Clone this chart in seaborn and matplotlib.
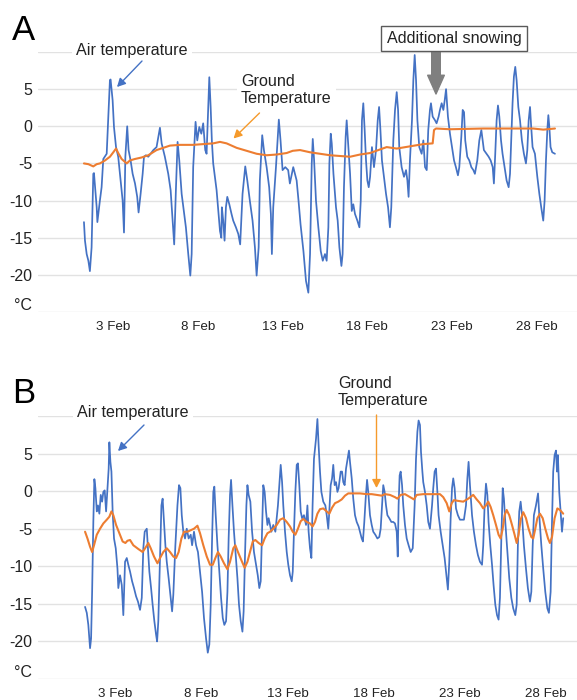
import matplotlib
matplotlib.use("Agg")
import matplotlib.pyplot as plt
import pandas as pd
import seaborn as sns

# ---------------- data (day of February, temperature in degC) ----------------
a_air_day = [1.29, 1.35, 1.45, 1.55, 1.64, 1.74, 1.84, 1.88, 2.04, 2.08, 2.23, 2.33, 2.43, 2.63, 2.82, 2.86,
             2.98, 3.06, 3.18, 3.31, 3.45, 3.57, 3.65, 3.73, 3.84, 3.92, 4.04, 4.16, 4.30, 4.43, 4.51, 4.63,
             4.75, 4.83, 4.94, 5.08, 5.22, 5.38, 5.57, 5.77, 5.87, 6.06, 6.26, 6.40, 6.52, 6.61, 6.71, 6.81,
             6.91, 7.05, 7.18, 7.30, 7.44, 7.56, 7.64, 7.73, 7.87, 7.97, 8.09, 8.21, 8.32, 8.44, 8.52, 8.62,
             8.68, 8.76, 8.83, 8.91, 9.01, 9.11, 9.23, 9.31, 9.39, 9.42, 9.50, 9.58, 9.66, 9.74, 9.86, 9.99,
             10.09, 10.25, 10.39, 10.50, 10.64, 10.80, 10.92, 11.07, 11.23, 11.37, 11.47, 11.59, 11.66, 11.80,
             11.90, 12.06, 12.21, 12.31, 12.37, 12.45, 12.61, 12.78, 12.88, 13.00, 13.16, 13.33, 13.43, 13.63,
             13.83, 13.94, 14.06, 14.23, 14.38, 14.52, 14.62, 14.72, 14.78, 14.86, 14.97, 15.11, 15.25, 15.37,
             15.50, 15.60, 15.70, 15.76, 15.84, 15.90, 16.00, 16.15, 16.25, 16.35, 16.47, 16.54, 16.62, 16.72,
             16.78, 16.88, 16.98, 17.08, 17.17, 17.27, 17.41, 17.53, 17.61, 17.68, 17.76, 17.84, 17.92, 18.00,
             18.08, 18.16, 18.27, 18.39, 18.51, 18.61, 18.69, 18.76, 18.86, 18.98, 19.10, 19.22, 19.33, 19.41,
             19.53, 19.63, 19.73, 19.81, 19.88, 20.02, 20.16, 20.28, 20.36, 20.43, 20.51, 20.63, 20.71, 20.79,
             20.87, 20.95, 21.06, 21.20, 21.30, 21.40, 21.50, 21.59, 21.69, 21.75, 21.85, 21.99, 22.08, 22.20,
             22.28, 22.38, 22.48, 22.56, 22.64, 22.75, 22.87, 22.99, 23.11, 23.22, 23.34, 23.42, 23.54, 23.62,
             23.70, 23.77, 23.89, 24.01, 24.13, 24.25, 24.34, 24.48, 24.60, 24.72, 24.80, 24.87, 25.03, 25.15,
             25.27, 25.39, 25.46, 25.54, 25.62, 25.70, 25.78, 25.88, 25.97, 26.09, 26.21, 26.33, 26.41, 26.49,
             26.56, 26.64, 26.72, 26.80, 26.90, 27.00, 27.11, 27.23, 27.35, 27.43, 27.51, 27.59, 27.66, 27.74,
             27.88, 28.02, 28.14, 28.25, 28.37, 28.45, 28.53, 28.61, 28.67, 28.73, 28.80, 28.90, 29.06]
a_air_temp = [-12.9, -15.4, -17.2, -18.1, -19.5, -16.3, -6.4, -6.3, -10.9, -12.9, -10.0, -8.2, -4.4, -3.7, 6.2, 6.3,
              3.5, -0.1, -2.8, -4.1, -7.3, -10.0, -14.3, -4.1, 0.0, -3.2, -4.6, -6.4, -7.7, -9.5, -11.6, -9.1,
              -6.4, -4.1, -3.9, -4.1, -3.7, -3.2, -2.8, -0.2, -2.3, -4.1, -6.4, -8.6, -12.7, -15.9, -8.6, -2.1,
              -4.6, -9.1, -11.4, -13.6, -17.2, -20.1, -17.2, -5.5, 0.6, -1.9, -0.1, -1.0, 0.4, -3.2, -3.7, 2.6,
              6.6, 2.6, -1.9, -5.0, -6.8, -8.6, -11.8, -14.1, -15.0, -10.9, -12.7, -15.4, -10.9, -9.5, -10.5, -11.8,
              -12.7, -13.6, -14.5, -15.9, -9.1, -5.4, -7.3, -10.0, -12.7, -16.3, -20.1, -16.3, -7.3, -1.2,
              -3.2, -5.5, -8.2, -11.8, -17.2, -10.9, -5.5, 0.9, -1.9, -5.9, -5.5, -5.9, -7.7, -5.5,
              -7.3, -10.0, -13.2, -16.8, -20.8, -22.4, -17.2, -5.0, -1.7, -4.6, -10.0, -13.6, -16.8, -18.1,
              -17.2, -18.1, -13.6, -5.0, -1.0, -2.3, -6.4, -10.9, -12.7, -16.3, -18.8, -17.2, -8.2, -1.4,
              0.8, -2.8, -6.4, -11.4, -10.5, -11.8, -12.7, -13.6, -10.0, 0.8, 3.1, -0.5, -4.6, -7.3,
              -8.2, -6.8, -2.8, -5.5, -3.2, 0.8, 2.6, -0.1, -4.6, -6.8, -9.1, -10.9, -13.6, -10.9,
              -1.9, 2.2, 4.6, 2.2, -2.8, -5.5, -6.8, -5.9, -7.3, -9.5, -4.6, 0.8, 6.2, 9.6,
              6.2, 0.8, -2.8, -3.7, -1.9, -5.5, -5.9, -0.5, 2.2, 3.1, 1.3, 0.8, 0.4, 1.3,
              2.2, 3.1, 2.2, 3.5, 5.0, 1.3, -1.0, -2.8, -4.6, -5.5, -6.6, -5.5, -1.4, 2.2,
              1.9, -1.9, -4.1, -4.6, -5.5, -5.9, -6.4, -4.6, -1.9, -0.5, -1.9, -3.2, -3.7, -4.1,
              -4.6, -5.5, -7.7, -3.7, 0.8, 2.8, 1.3, -1.9, -3.7, -5.5, -7.3, -8.2, -6.4, -1.4,
              3.1, 6.7, 8.0, 6.2, 2.6, 0.8, -1.9, -3.7, -5.0, -3.2, 0.8, 2.6, -0.1, -2.8,
              -3.7, -6.8, -9.1, -10.9, -12.7, -10.0, -4.6, -0.5, 1.5, -0.1, -2.8, -3.5, -3.7]

a_ground_day = [1.29, 1.55, 1.84, 2.04, 2.23, 2.53, 2.82, 3.02, 3.18, 3.31, 3.51, 3.81, 4.00, 4.30, 4.69,
                5.08, 5.57, 5.97, 6.36, 6.95, 7.73, 8.32, 8.91, 9.31, 9.70, 10.29, 10.88, 11.47, 12.06,
                12.65, 13.24, 13.60, 14.03, 14.62, 15.80, 16.98, 17.57, 18.16, 19.14, 19.73, 20.51, 21.30,
                21.85, 21.93, 22.05, 22.87, 24.84, 26.80, 27.78, 28.37, 29.06]
a_ground_temp = [-5.0, -5.1, -5.4, -5.1, -5.0, -4.6, -4.1, -3.5, -3.0, -3.6, -4.4, -5.0, -4.6, -4.4, -4.2,
                 -3.9, -3.2, -2.9, -2.6, -2.5, -2.5, -2.4, -2.3, -2.1, -2.3, -2.9, -3.3, -3.7, -3.9,
                 -3.8, -3.6, -3.3, -3.2, -3.5, -3.9, -4.1, -3.8, -3.6, -2.8, -3.0, -2.7, -2.4,
                 -2.3, -0.5, -0.3, -0.4, -0.3, -0.3, -0.3, -0.45, -0.3]

b_air_day = [1.26, 1.36, 1.45, 1.55, 1.61, 1.67, 1.74, 1.80, 1.86, 1.94, 2.01, 2.09, 2.17, 2.25, 2.32, 2.40,
             2.48, 2.56, 2.63, 2.67, 2.73, 2.79, 2.86, 2.94, 3.04, 3.14, 3.19, 3.29, 3.39, 3.48, 3.58, 3.68,
             3.77, 3.87, 3.99, 4.10, 4.22, 4.33, 4.45, 4.55, 4.64, 4.72, 4.84, 4.91, 4.99, 5.09, 5.18, 5.28,
             5.38, 5.44, 5.51, 5.61, 5.69, 5.76, 5.84, 5.92, 6.00, 6.11, 6.23, 6.31, 6.38, 6.50, 6.62, 6.71,
             6.79, 6.87, 6.96, 7.06, 7.16, 7.27, 7.39, 7.47, 7.58, 7.70, 7.81, 7.93, 8.05, 8.16, 8.28, 8.38,
             8.47, 8.55, 8.63, 8.70, 8.76, 8.84, 8.94, 9.05, 9.15, 9.25, 9.34, 9.44, 9.52, 9.59, 9.67, 9.73,
             9.81, 9.90, 10.00, 10.10, 10.19, 10.29, 10.39, 10.46, 10.54, 10.62, 10.68, 10.75, 10.85, 10.95,
             11.06, 11.18, 11.28, 11.37, 11.45, 11.53, 11.60, 11.68, 11.76, 11.84, 11.91, 11.99, 12.07, 12.18,
             12.30, 12.38, 12.45, 12.53, 12.61, 12.69, 12.76, 12.86, 12.96, 13.05, 13.15, 13.25, 13.31, 13.38,
             13.46, 13.54, 13.61, 13.69, 13.77, 13.85, 13.96, 14.08, 14.16, 14.23, 14.31, 14.39,
             14.46, 14.54, 14.66, 14.74, 14.81, 14.89, 14.97, 15.08, 15.20, 15.28, 15.37, 15.43, 15.51, 15.59,
             15.66, 15.74, 15.82, 15.90, 15.97, 16.09, 16.17, 16.24, 16.32, 16.40, 16.49, 16.57, 16.63, 16.73,
             16.82, 16.92, 17.02, 17.13, 17.21, 17.31, 17.38, 17.46, 17.54, 17.62, 17.69, 17.79, 17.89, 17.98,
             18.10, 18.22, 18.33, 18.41, 18.49, 18.56, 18.64, 18.72, 18.80, 18.91, 19.03, 19.14, 19.24, 19.34,
             19.40, 19.45, 19.51, 19.57, 19.65, 19.72, 19.82, 19.92, 20.03, 20.15, 20.27, 20.38, 20.46, 20.54,
             20.61, 20.69, 20.75, 20.83, 20.88, 20.98, 21.08, 21.17, 21.27, 21.39, 21.46, 21.54, 21.62, 21.70,
             21.77, 21.89, 22.01, 22.12, 22.24, 22.31, 22.39, 22.47, 22.55, 22.62, 22.70, 22.78, 22.89, 23.01,
             23.13, 23.24, 23.36, 23.44, 23.51, 23.59, 23.71, 23.82, 23.94, 24.05, 24.17, 24.29, 24.36, 24.44,
             24.52, 24.60, 24.67, 24.77, 24.87, 24.96, 25.06, 25.16, 25.25, 25.33, 25.41, 25.49, 25.56, 25.64,
             25.76, 25.87, 25.99, 26.10, 26.22, 26.30, 26.37, 26.45, 26.53, 26.61, 26.72, 26.84, 26.95, 27.07,
             27.15, 27.23, 27.30, 27.42, 27.54, 27.61, 27.73, 27.84, 27.96, 28.08, 28.17, 28.27, 28.35, 28.42,
             28.50, 28.58, 28.64, 28.69, 28.77, 28.85, 28.93, 29.00]
b_air_temp = [-15.4, -16.2, -17.8, -20.9, -19.6, -13.4, -4.1, 1.6, 0.4, -2.7, -1.9, -3.0, -0.5, -1.4, -0.1, 0.1,
              -2.7, 0.4, 3.0, 6.5, 3.9, 2.6, -2.7, -6.3, -7.6, -10.3, -12.9, -11.2, -12.5, -16.5, -9.4, -8.9,
              -9.8, -10.7, -12.0, -12.9, -14.0, -14.7, -15.8, -14.2, -7.6, -5.4, -5.0, -7.6, -10.7, -12.9, -15.1, -17.3,
              -19.1, -20.0, -17.3, -8.5, -1.9, -1.0, -4.1, -7.2, -9.4, -11.6, -14.2, -16.0, -13.8, -7.2, -1.9, 0.8,
              0.4, -3.2, -5.4, -6.3, -5.0, -6.3, -5.8, -7.2, -5.4, -7.2, -8.1, -10.7, -13.4, -16.9, -19.6, -21.5,
              -20.4, -15.1, -6.3, -0.1, 0.6, -3.2, -7.2, -10.7, -14.2, -16.9, -17.8, -17.3, -13.4, -6.3, -0.5, 1.5,
              -1.9, -5.4, -8.5, -11.6, -15.1, -17.3, -18.7, -16.0, -8.5, -1.9, 0.8, -0.5, -1.4, -5.4,
              -8.1, -9.8, -11.2, -12.9, -12.0, -5.0, 0.8, -0.1, -2.7, -4.5, -3.6, -4.5, -5.4, -4.5,
              -5.4, -3.6, -1.9, 0.8, 3.5, 1.2, -1.9, -5.4, -8.1, -9.8, -11.2, -12.0, -10.7, -5.4,
              -0.1, 3.5, 3.7, 0.8, -2.7, -3.6, -3.2, -4.5, -1.9, -5.4, -7.6, -8.9,
              -1.9, 4.3, 7.0, 9.6, 6.1, 2.6, -0.1, -1.4, -1.9, -3.2, -5.0, -2.7, 0.8, 1.7,
              3.5, 0.8, 1.2, -0.1, 0.4, 2.6, 2.6, 1.2, 0.8, 3.0, 4.3, 5.4, 3.9, 1.7,
              -1.0, -3.2, -4.1, -4.7, -5.4, -6.3, -6.7, -4.1, -1.0, 1.5, -0.1, -3.2, -4.5, -5.4,
              -5.8, -6.3, -6.1, -5.0, -1.9, 0.8, -0.1, -1.9, -3.2, -3.6, -4.1, -4.1, -4.3, -5.4,
              -8.7, -1.9, 2.1, 2.6, 0.8, -1.9, -4.5, -6.3, -7.2, -8.1, -7.6, -1.9, 4.3, 7.9,
              9.4, 8.8, 5.2, 2.6, 1.2, -0.1, -1.9, -4.1, -5.0, -1.9, 0.4, 2.6, 3.0, -0.1,
              -3.2, -5.4, -7.2, -8.9, -11.6, -13.1, -9.4, -3.6, 0.4, 1.7, 0.4, -2.3, -3.2, -3.8,
              -3.8, -3.8, -1.9, 1.7, 3.9, 0.8, -3.2, -5.4, -7.2, -8.5, -9.4, -9.8, -7.2, -1.9,
              1.0, -0.5, -4.1, -7.2, -9.8, -12.5, -15.1, -16.5, -17.1, -14.2, -6.3, 0.4, -1.0, -4.1,
              -8.1, -11.6, -14.2, -15.6, -16.5, -15.1, -7.2, -2.7, -1.4, -3.2, -7.2, -10.3, -12.9, -14.7,
              -13.4, -7.2, -3.2, -1.9, -0.3, -3.2, -7.2, -10.3, -13.4, -15.6, -16.2, -13.4, -4.1, 2.6,
              4.8, 5.4, 2.6, 4.8, -0.1, -2.7, -5.4, -3.6]

b_ground_day = [1.26, 1.40, 1.55, 1.67, 1.78, 1.94, 2.13, 2.32, 2.52, 2.67, 2.79, 2.90, 3.06, 3.25, 3.44, 3.60,
                3.72, 3.87, 4.06, 4.35, 4.60, 4.80, 4.93, 5.07, 5.26, 5.46, 5.61, 5.80, 6.00, 6.19, 6.38, 6.54,
                6.69, 6.85, 7.00, 7.20, 7.39, 7.58, 7.78, 7.93, 8.12, 8.32, 8.51, 8.67, 8.82, 8.97, 9.13, 9.32,
                9.52, 9.67, 9.86, 9.98, 10.13, 10.33, 10.52, 10.68, 10.83, 10.99, 11.14, 11.33, 11.53, 11.68,
                11.84, 11.99, 12.18, 12.38, 12.57, 12.76, 12.96, 13.15, 13.31, 13.46, 13.61, 13.77, 13.92, 14.12,
                14.31, 14.46, 14.60, 14.74, 14.89, 15.08, 15.28, 15.43, 15.59, 15.76, 15.95, 16.15, 16.34, 16.53,
                16.82, 17.21, 17.60, 17.89, 18.18, 18.47, 18.66, 18.95, 19.24, 19.38, 19.57, 19.82, 20.11, 20.34,
                20.50, 20.88, 21.27, 21.56, 21.85, 22.04, 22.24, 22.39, 22.53, 22.66, 22.91, 23.20, 23.49, 23.78,
                23.98, 24.17, 24.36, 24.52, 24.65, 24.79, 24.94, 25.10, 25.25, 25.37, 25.49, 25.60, 25.72, 25.87,
                26.03, 26.18, 26.30, 26.41, 26.53, 26.68, 26.84, 26.99, 27.15, 27.26, 27.38, 27.50, 27.65, 27.81,
                27.96, 28.12, 28.23, 28.35, 28.50, 28.66, 28.81, 29.00]
b_ground_temp = [-5.4, -6.3, -7.4, -8.1, -7.2, -5.8, -5.0, -4.3, -3.8, -3.4, -2.7, -3.2, -4.5, -5.6, -6.7, -6.9,
                 -6.6, -6.5, -7.2, -7.7, -8.1, -7.4, -6.9, -7.6, -8.7, -9.6, -8.9, -8.1, -7.6, -8.1, -8.7, -8.9,
                 -8.1, -6.3, -5.4, -5.4, -5.2, -5.0, -4.6, -5.6, -7.2, -8.7, -9.8, -9.8, -8.9, -8.1, -8.7, -9.6,
                 -10.4, -9.4, -7.6, -7.2, -8.1, -9.2, -10.2, -9.4, -8.1, -6.7, -6.5, -6.9, -7.2, -6.3,
                 -5.6, -5.4, -5.0, -4.5, -3.8, -3.6, -4.1, -4.7, -5.4, -5.8, -5.0, -4.0, -3.7, -4.1,
                 -4.3, -4.7, -4.1, -3.0, -2.4, -2.3, -2.7, -3.0, -2.2, -1.6, -1.4, -1.1, -0.6, -0.3,
                 -0.3, -0.3, -0.4, -0.4, -0.5, -0.6, -0.4, -0.5, -0.8, -1.0, -0.5, -0.4, -0.8, -1.1,
                 -0.5, -0.4, -0.4, -0.4, -0.4, -0.8, -1.6, -2.7, -1.6, -1.2, -1.3, -1.4, -1.0, -0.5,
                 -1.1, -1.6, -2.3, -1.9, -1.4, -2.1, -3.2, -4.5, -5.8, -6.3, -5.0, -3.2, -2.5, -3.2,
                 -4.5, -5.8, -6.9, -5.8, -3.8, -2.8, -3.6, -5.0, -6.1, -6.3, -5.0, -3.6, -3.0, -3.6,
                 -5.0, -6.3, -6.9, -6.1, -3.6, -2.3, -2.5, -3.0]

tick_days = [3, 8, 13, 18, 23, 28]
tick_labels = ["3 Feb", "8 Feb", "13 Feb", "18 Feb", "23 Feb", "28 Feb"]
y_ticks = [-20, -15, -10, -5, 0, 5]
y_tick_labels = ["-20", "-15", "-10", "-5", "0", "5"]
grid_levels = [-25, -20, -15, -10, -5, 0, 5, 10]

# ---------------- style ----------------
sns.set_style("white")
plt.rcParams["font.family"] = ["Liberation Sans", "DejaVu Sans"]

BLUE = "#4472C4"
ORANGE = "#ED7D31"
ARROW_ORANGE = "#F59A2C"
TXT = "#222222"

W, H = 577, 700
fig = plt.figure(figsize=(W / 100, H / 100), dpi=100)
fig.patch.set_facecolor("white")

axA = fig.add_axes([38 / W, 1 - 312 / H, 539 / W, 260 / H])
axB = fig.add_axes([38 / W, 1 - 679 / H, 539 / W, 263 / H])


def draw_panel(ax, air_d, air_t, gr_d, gr_t, xlim):
    air = pd.DataFrame({"day": air_d, "temp": air_t})
    ground = pd.DataFrame({"day": gr_d, "temp": gr_t})
    for g in grid_levels:
        ax.axhline(g, color="#e2e2e2", lw=1.0, zorder=0)
    sns.lineplot(data=air, x="day", y="temp", ax=ax, color=BLUE, linewidth=1.25,
                 estimator=None, sort=False, zorder=2)
    sns.lineplot(data=ground, x="day", y="temp", ax=ax, color=ORANGE, linewidth=1.5,
                 estimator=None, sort=False, zorder=3)
    ax.set_xlim(*xlim)
    ax.set_ylim(-25, 10)
    for s in ax.spines.values():
        s.set_visible(False)
    ax.set_xticks(tick_days)
    ax.set_xticklabels(tick_labels)
    ax.set_yticks(y_ticks + [-23.9])
    ax.set_yticklabels(y_tick_labels + ["°C"])
    ax.tick_params(axis="x", length=0, pad=6.5, labelsize=9.6, colors=TXT)
    ax.tick_params(axis="y", length=0, pad=4.3, labelsize=11.5, colors=TXT)
    ax.set_xlabel("")
    ax.set_ylabel("")
    ax.set_facecolor("white")


draw_panel(axA, a_air_day, a_air_temp, a_ground_day, a_ground_temp, (-1.42, 30.36))
draw_panel(axB, b_air_day, b_air_temp, b_ground_day, b_ground_temp, (-1.47, 29.80))


def fp(x, y):
    return (x, H - y)


def text(x, y, s, **kw):
    fig.text(x / W, 1 - y / H, s, **kw)


def arrow(x0, y0, x1, y1, color):
    fig.add_artist(matplotlib.patches.FancyArrowPatch(
        fp(x0, y0), fp(x1, y1), transform=None,
        arrowstyle="-|>,head_length=5,head_width=2.6", color=color, lw=1.0,
        shrinkA=0, shrinkB=0, zorder=6))


white_box = dict(boxstyle="square,pad=0.25", fc="white", ec="none")

# panel letters
text(12, 40, "A", fontsize=25, color="black", ha="left", va="baseline")
text(12, 403, "B", fontsize=25, color="black", ha="left", va="baseline")

# panel A annotations
text(132, 50, "Air temperature", fontsize=11.6, color=TXT, ha="center", va="center", bbox=white_box, zorder=5)
arrow(142, 61, 117, 87, BLUE)
text(241, 90, "Ground\nTemperature", fontsize=11.6, color=TXT, ha="left", va="center",
     linespacing=1.2, bbox=white_box, zorder=5)
arrow(259.5, 113, 233.5, 138.5, ARROW_ORANGE)

fig.add_artist(matplotlib.patches.FancyArrowPatch(
    fp(436, 51), fp(436, 94), transform=None,
    arrowstyle="simple,head_length=1.35,head_width=1.2,tail_width=0.62", mutation_scale=10,
    color="#7f7f7f", shrinkA=0, shrinkB=0, zorder=6))
text(454, 38.5, "Additional snowing", fontsize=11.6, color=TXT, ha="center", va="center", zorder=7,
     bbox=dict(boxstyle="square,pad=0.32", fc="white", ec="#5a5a5a", lw=1.0))

# panel B annotations
text(133, 413, "Air temperature", fontsize=11.6, color=TXT, ha="center", va="center", bbox=white_box, zorder=5)
arrow(144, 425, 118, 451, BLUE)
text(338, 392, "Ground\nTemperature", fontsize=11.6, color=TXT, ha="left", va="center",
     linespacing=1.2, zorder=5)
arrow(376.5, 415, 376.5, 488, ARROW_ORANGE)

fig.savefig("out.png", dpi=100, facecolor="white")
